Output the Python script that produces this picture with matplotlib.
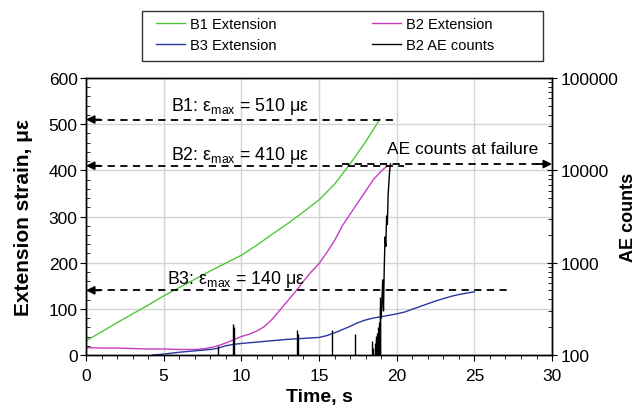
import matplotlib
matplotlib.use("Agg")
import matplotlib.pyplot as plt
from matplotlib.ticker import MultipleLocator, LogLocator, NullFormatter
from matplotlib.lines import Line2D
from matplotlib.patches import Rectangle

plt.rcParams['font.family'] = ['Liberation Sans', 'DejaVu Sans']
plt.rcParams['mathtext.fontset'] = 'custom'
plt.rcParams['mathtext.rm'] = 'Liberation Sans'

# strain curves (time s, strain µε)
b1_t = [0, 1, 2, 3, 4, 5, 6, 7, 8, 9, 10, 11, 12, 13, 14, 15, 16, 17, 18, 18.9]
b1_v = [31, 50, 70, 89, 108, 128, 146, 164, 182, 199, 216, 238, 262, 285, 310, 336, 370, 414, 462, 510]

b2_t = [0, 1, 2, 3, 4, 5, 6, 7, 7.5, 8, 8.5, 9, 9.5, 10, 10.5, 11, 11.5, 12, 12.5, 13,
        13.5, 14, 14.5, 15, 15.5, 16, 16.5, 17, 17.5, 18, 18.5, 19, 19.4]
b2_v = [16, 15, 15, 14, 13, 13, 12, 12, 13, 16, 20, 26, 33, 40, 45, 52, 62, 78, 98, 118,
        138, 160, 180, 198, 222, 248, 280, 305, 330, 355, 380, 398, 410]

b3_t = [4.3, 5, 6, 7, 8, 8.4, 9, 9.5, 10, 11, 12, 13, 14, 15, 15.5, 16, 16.5, 17, 17.5,
        18, 18.5, 19, 19.5, 20, 20.5, 21, 21.5, 22, 22.5, 23, 23.5, 24, 24.5, 25]
b3_v = [0, 2, 6, 9, 12, 14, 20, 23, 25, 28, 31, 34, 36, 38, 42, 48, 55, 62, 70,
        76, 80, 83, 86, 89, 93, 99, 105, 111, 117, 122, 127, 131, 134, 137]

# AE counts: isolated hits and the final rise at failure
spike_t = [8.5, 9.45, 9.5, 13.6, 13.65, 15.85, 17.3, 18.42, 18.5, 18.58, 18.65, 18.7,
           18.75, 18.8, 18.85, 18.9, 18.95]
spike_n = [125, 215, 200, 185, 170, 185, 170, 142, 120, 135, 150, 160, 175, 200, 230, 330, 420]
rise_t = [19.0, 19.05, 19.1, 19.15, 19.2, 19.25, 19.3, 19.35, 19.4, 19.45, 19.5, 19.55, 19.6]
rise_n = [250, 400, 650, 300, 900, 1900, 1500, 3200, 2600, 5500, 7500, 10000, 11700]

# max strain markers
eps_max = [510, 410, 140]
eps_end = [19.9, 20.5, 27.2]
eps_txt_y = [540, 435, 165]
eps_txt_x = [5.5, 5.5, 5.2]
ae_fail = 11700

green = '#4ec83a'
magenta = '#c83cc0'
blue = '#2838a0'

fig = plt.figure(figsize=(6.36, 4.10), dpi=100)
ax = fig.add_axes([0.1352, 0.1317, 0.7328, 0.6756])
ax2 = ax.twinx()

ax.plot(b1_t, b1_v, color=green, lw=1.0)
ax.plot(b2_t, b2_v, color=magenta, lw=1.0)
ax.plot(b3_t, b3_v, color=blue, lw=1.0)

ax2.set_yscale('log')
ax2.vlines(spike_t, 100, spike_n, color='k', lw=1.0)
ax2.plot(rise_t, rise_n, color='k', lw=1.0)
ax2.set_ylim(100, 100000)

ax.set_xlim(0, 30)
ax.set_ylim(0, 600)
ax.xaxis.set_major_locator(MultipleLocator(5))
ax.xaxis.set_minor_locator(MultipleLocator(1))
ax.yaxis.set_major_locator(MultipleLocator(100))
ax.yaxis.set_minor_locator(MultipleLocator(20))
ax.grid(True, which='major', color='#d4d4d4', lw=1.0)
ax.set_axisbelow(True)
ax.tick_params(axis='both', which='major', direction='out', length=4, labelsize=12.5, pad=2)
ax.tick_params(axis='x', which='major', pad=5)
ax.tick_params(axis='x', which='minor', direction='out', length=3)
ax.tick_params(axis='y', which='minor', direction='in', length=3)

ax2.set_yticks([100, 1000, 10000, 100000], ['100', '1000', '10000', '100000'])
ax2.yaxis.set_minor_locator(LogLocator(base=10, subs=range(2, 10)))
ax2.yaxis.set_minor_formatter(NullFormatter())
ax2.tick_params(axis='y', which='major', direction='inout', length=7, labelsize=12.5, pad=3)
ax2.tick_params(axis='y', which='minor', direction='in', length=3)

ax.set_xlabel('Time, s', fontsize=14, fontweight='bold', labelpad=4)
ax.set_ylabel('Extension strain, με', fontsize=15, fontweight='bold', labelpad=11)
ax2.set_ylabel('AE counts', fontsize=13, fontweight='bold', labelpad=1)

for ax_ in (ax, ax2):
    for s in ax_.spines.values():
        s.set_linewidth(1.0)

# dashed arrows for max strain
for name, v, xe, ty, tx in zip(['B1', 'B2', 'B3'], eps_max, eps_end, eps_txt_y, eps_txt_x):
    ax.plot([0.6, xe], [v, v], color='k', lw=1.3, ls=(0, (4, 3)))
    ax.annotate('', xy=(0, v), xytext=(0.9, v),
                arrowprops=dict(arrowstyle='-|>', color='k', lw=1.3,
                                mutation_scale=12, shrinkA=0, shrinkB=0))
    ax.text(tx, ty, name + r': $\mathregular{\varepsilon}$' + r'$\mathregular{_{max}}$' + ' = %d με' % v,
            fontsize=12.8, va='center', ha='left')

ax2.plot([16.5, 29.2], [ae_fail, ae_fail], color='k', lw=1.3, ls=(0, (4, 3)))
ax2.annotate('', xy=(30, ae_fail), xytext=(29.0, ae_fail),
             arrowprops=dict(arrowstyle='-|>', color='k', lw=1.3,
                             mutation_scale=12, shrinkA=0, shrinkB=0))
ax.text(19.4, 448, 'AE counts at failure', fontsize=12.5, va='center', ha='left')

# legend box above the plot
fig.add_artist(Rectangle((142 / 636, 1 - 62 / 410), (543 - 142) / 636, 50 / 410,
                         transform=fig.transFigure, fill=False, edgecolor='#333333', lw=1.0))
handles = [Line2D([], [], color=green, lw=1.0), Line2D([], [], color=blue, lw=1.0),
           Line2D([], [], color=magenta, lw=1.0), Line2D([], [], color='k', lw=1.0)]
labels = ['B1 Extension', 'B3 Extension', 'B2 Extension', 'B2 AE counts']
fig.legend(handles, labels, ncol=2, loc='upper left',
           bbox_to_anchor=(156 / 636, 1 - 18 / 410),
           fontsize=10.5, frameon=False, handlelength=2.0, handletextpad=0.3,
           borderaxespad=0, borderpad=0, labelspacing=0.5, columnspacing=6.6)

fig.savefig('out.png', dpi=100)
